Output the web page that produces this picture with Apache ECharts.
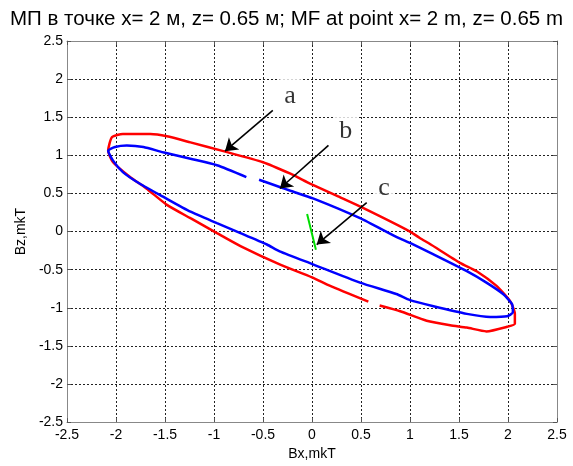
<!DOCTYPE html>
<html>
<head>
<meta charset="utf-8">
<script src="https://cdn.jsdelivr.net/npm/echarts@6/dist/echarts.min.js"></script>
<style>
html,body{margin:0;padding:0;background:#fff;}
#chart{width:573px;height:466px;}
</style>
</head>
<body>
<div id="chart"></div>
<script>
const titleText = 'МП в точке x= 2 м, z= 0.65 м; MF at point x= 2 m, z= 0.65 m';
const xName = 'Bx,mkT';
const yName = 'Bz,mkT';
const axisMin = -2.5, axisMax = 2.5, axisStep = 0.5;

// curve a (red)
const redBx = [0.69, 0.90, 1.17, 1.41, 1.58, 1.78, 1.99, 2.07, 2.07, 2.02, 1.88, 1.68, 1.51, 1.2, 1.10, 1.0, 0.52, 0.25, -0.02, -0.12, -0.22, -0.50, -0.905, -1.24, -1.48, -1.65, -1.93, -2.04, -2.08, -2.03, -1.86, -1.69, -1.48, -1.24, -0.97, -0.73, -0.33, 0.0, 0.18, 0.575];
const redBz = [-0.97, -1.045, -1.17, -1.23, -1.26, -1.31, -1.25, -1.21, -1.08, -0.91, -0.71, -0.52, -0.41, -0.16, -0.085, 0.0, 0.31, 0.47, 0.63, 0.695, 0.76, 0.91, 1.055, 1.17, 1.25, 1.28, 1.28, 1.24, 1.06, 0.91, 0.72, 0.565, 0.35, 0.175, -0.02, -0.19, -0.43, -0.60, -0.71, -0.92];

// curve b (blue)
const blueBx = [-0.54, -0.33, -0.22, 0.01, 0.49, 0.86, 1.0, 1.24, 1.58, 1.78, 1.95, 2.04, 2.05, 1.99, 1.82, 1.58, 1.24, 1.0, 0.86, 0.49, 0.01, -0.33, -0.46, -0.73, -0.97, -1.24, -1.52, -1.76, -1.93, -2.03, -2.08, -2.01, -1.89, -1.72, -1.52, -1.24, -0.97, -0.67];
const blueBz = [0.68, 0.585, 0.535, 0.435, 0.175, -0.07, -0.15, -0.30, -0.52, -0.67, -0.82, -0.95, -1.06, -1.11, -1.12, -1.08, -0.98, -0.90, -0.82, -0.67, -0.43, -0.26, -0.17, -0.02, 0.11, 0.26, 0.457, 0.63, 0.78, 0.93, 1.06, 1.11, 1.13, 1.11, 1.04, 0.955, 0.87, 0.715];

// curve c (green)
const greenBx = [-0.05, -0.01, 0.04];
const greenBz = [0.23, 0.02, -0.24];

// annotations
const arrowLabels = ['a', 'b', 'c'];
const labelBx = [-0.224, 0.344, 0.735];
const labelBz = [1.78, 1.322, 0.575];
const arrowTailBx = [-0.40, 0.168, 0.558];
const arrowTailBz = [1.59, 1.13, 0.38];
const arrowTipBx = [-0.888, -0.327, 0.048];
const arrowTipBz = [1.055, 0.565, -0.171];

const zip = (a, b) => a.map((v, i) => [v, b[i]]);

const chart = echarts.init(document.getElementById('chart'), null, {renderer: 'canvas'});
const font = 'Liberation Sans, Arial, sans-serif';
const gridDash = {color: '#222', width: 1, type: [2, 2]};

const baseAxis = {
  type: 'value', min: axisMin, max: axisMax, interval: axisStep,
  axisLine: {show: true, onZero: false, lineStyle: {color: '#888', width: 1}},
  axisTick: {show: true, inside: true, length: 4, lineStyle: {color: '#555'}},
  axisLabel: {color: '#000', fontFamily: font, fontSize: 14,
    formatter: v => (Math.abs(v) < 1e-9 ? '0' : String(+v.toFixed(2)))},
  splitLine: {show: true, lineStyle: gridDash}
};

const option = {
  animation: false,
  backgroundColor: '#fff',
  title: {
    text: titleText, left: 'center', top: 4,
    textStyle: {fontFamily: font, fontSize: 20.5, fontWeight: 'normal', color: '#000'}
  },
  grid: {left: 67, right: 16, top: 41, bottom: 40, containLabel: false},
  xAxis: [
    Object.assign({}, baseAxis, {
      position: 'bottom', name: xName, nameLocation: 'middle', nameGap: 20,
      nameTextStyle: {fontFamily: font, fontSize: 14, color: '#000'},
      axisLabel: Object.assign({}, baseAxis.axisLabel, {margin: 6})
    }),
    Object.assign({}, baseAxis, {
      position: 'top', axisLabel: {show: false}, splitLine: {show: false}
    })
  ],
  yAxis: [
    Object.assign({}, baseAxis, {
      position: 'left', name: yName, nameLocation: 'middle', nameGap: 37,
      nameTextStyle: {fontFamily: font, fontSize: 14, color: '#000'},
      axisLabel: Object.assign({}, baseAxis.axisLabel, {margin: 4})
    }),
    Object.assign({}, baseAxis, {
      position: 'right', axisLabel: {show: false}, splitLine: {show: false}
    })
  ],
  series: [
    {
      name: 'a', type: 'line', data: zip(redBx, redBz), showSymbol: false, symbol: 'none',
      smooth: 0.2, lineStyle: {color: '#ff0000', width: 2.5}, z: 3
    },
    {
      name: 'b', type: 'line', data: zip(blueBx, blueBz), showSymbol: false, symbol: 'none',
      smooth: 0.2, lineStyle: {color: '#0000ff', width: 2.5}, z: 3
    },
    {
      name: 'c', type: 'line', data: zip(greenBx, greenBz), showSymbol: false, symbol: 'none',
      lineStyle: {color: '#00dd00', width: 2}, z: 3
    },
    {
      type: 'lines', coordinateSystem: 'cartesian2d', z: 5,
      symbol: ['none', 'arrow'], symbolSize: 12,
      lineStyle: {color: '#000', width: 1.6, opacity: 1},
      itemStyle: {color: '#000'},
      data: arrowLabels.map((n, i) => ({
        coords: [[arrowTailBx[i], arrowTailBz[i]], [arrowTipBx[i], arrowTipBz[i]]]
      }))
    },
    {
      type: 'scatter', z: 4, symbol: 'circle', symbolSize: 1,
      itemStyle: {color: 'rgba(0,0,0,0)'}, silent: true,
      data: arrowLabels.map((n, i) => ({name: n, value: [labelBx[i], labelBz[i]]})),
      label: {
        show: true, position: 'inside', formatter: p => p.name,
        fontFamily: 'Liberation Serif, Times New Roman, serif', fontSize: 26, color: '#000',
        backgroundColor: '#fff', padding: [4, 5, 1, 5], lineHeight: 30
      },
      labelLayout: {hideOverlap: false}
    }
  ]
};
chart.setOption(option);
</script>
</body>
</html>
